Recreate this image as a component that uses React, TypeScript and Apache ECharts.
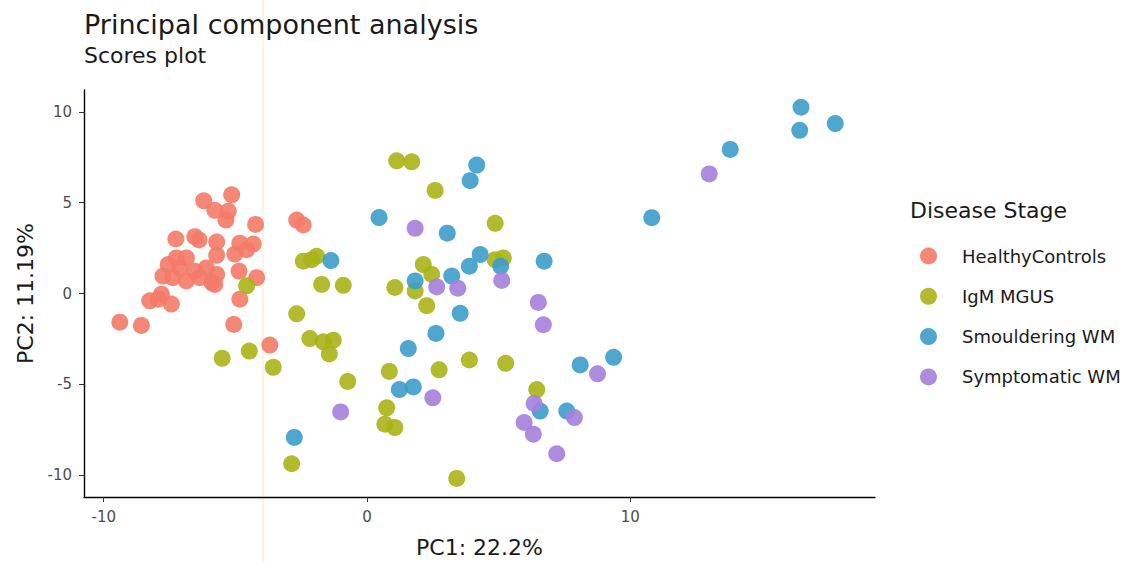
import React, { useEffect, useRef } from "react";
import * as echarts from "echarts";

const seriesNames = ["HealthyControls", "IgM MGUS", "Smouldering WM", "Symptomatic WM"];
const seriesColors = ["#F47A68", "#A9B416", "#3C9DCB", "#A47FDC"];
const xTicks = [-10, 0, 10];
const yTicks = [-10, -5, 0, 5, 10];

const healthyControls: number[][] = [
  [-5.14, 5.43], [-6.2, 5.1], [-5.78, 4.58], [-5.27, 4.53], [-5.36, 4.04], [-4.23, 3.8],
  [-7.26, 3.0], [-6.54, 3.13], [-6.38, 2.95], [-5.71, 2.83], [-4.83, 2.77], [-4.32, 2.72],
  [-4.57, 2.41], [-5.02, 2.17], [-5.71, 2.1], [-7.24, 1.96], [-6.86, 1.96], [-7.55, 1.59],
  [-7.11, 1.41], [-6.54, 1.23], [-6.1, 1.41], [-5.71, 1.05], [-7.75, 0.96], [-7.37, 0.87],
  [-6.86, 0.69], [-6.35, 0.87], [-5.9, 0.6], [-5.78, 0.5], [-4.86, 1.23], [-4.19, 0.87],
  [-7.81, -0.04], [-8.25, -0.4], [-7.43, -0.58], [-7.93, -0.31], [-4.83, -0.31],
  [-9.39, -1.58], [-8.57, -1.76], [-5.06, -1.7], [-3.69, -2.84], [-2.67, 4.04], [-2.42, 3.77],
];

const igmMgus: number[][] = [
  [-4.57, 0.42], [-2.42, 1.78], [-2.1, 1.86], [-1.91, 2.05], [-2.67, -1.12], [-2.17, -2.48],
  [-1.66, -2.66], [-1.28, -2.57], [-1.43, -3.33], [-5.5, -3.57], [-4.47, -3.17], [-3.56, -4.06],
  [-0.73, -4.84], [0.85, -4.29], [0.75, -6.29], [0.68, -7.19], [1.06, -7.38], [-2.86, -9.37],
  [2.74, -4.2], [3.89, -3.66], [5.27, -3.84], [6.45, -5.29], [3.41, -10.18],
  [1.13, 7.3], [1.7, 7.25], [2.59, 5.67], [4.87, 3.86], [-1.72, 0.5], [-0.9, 0.45],
  [1.06, 0.33], [2.14, 1.59], [2.46, 1.05], [1.83, 0.14], [2.27, -0.67], [4.87, 1.86], [5.18, 1.96],
];

const smoulderingWm: number[][] = [
  [4.17, 7.07], [3.92, 6.21], [0.46, 4.18], [3.05, 3.32], [-1.37, 1.81], [4.3, 2.14],
  [3.89, 1.5], [5.08, 1.5], [6.73, 1.78], [1.83, 0.69], [3.22, 0.96], [3.54, -1.09],
  [2.62, -2.2], [1.57, -3.03], [1.23, -5.29], [1.76, -5.14], [8.1, -3.93], [9.37, -3.51],
  [6.58, -6.47], [7.59, -6.47], [-2.76, -7.92], [16.49, 10.25], [16.44, 8.98], [17.79, 9.35],
  [13.8, 7.93], [10.82, 4.17],
];

const symptomaticWm: number[][] = [
  [1.83, 3.59], [2.65, 0.36], [3.45, 0.29], [5.12, 0.72], [6.51, -0.49], [6.7, -1.72],
  [-1.0, -6.52], [8.76, -4.42], [2.5, -5.74], [6.35, -6.05], [5.97, -7.1], [6.32, -7.74],
  [7.21, -8.82], [7.88, -6.83], [13.0, 6.58],
];

const groups = [healthyControls, igmMgus, smoulderingWm, symptomaticWm];

const FONT = "'DejaVu Sans', 'Liberation Sans', Arial, sans-serif";

export default function App() {
  const ref = useRef<HTMLDivElement>(null);
  useEffect(() => {
    document.body.style.margin = "0";
    if (!ref.current) return;
    const chart = echarts.init(ref.current, undefined, { renderer: "svg" });
    chart.setOption({
      animation: false,
      backgroundColor: "#ffffff",
      textStyle: { fontFamily: FONT },
      title: [
        {
          text: "Principal component analysis",
          left: 79,
          top: 6,
          textStyle: { fontFamily: FONT, fontSize: 27, fontWeight: "normal", color: "#1a1a1a" },
        },
        {
          text: "Scores plot",
          left: 79,
          top: 39,
          textStyle: { fontFamily: FONT, fontSize: 22, fontWeight: "normal", color: "#1a1a1a" },
        },
      ],
      grid: { left: 84, top: 90, width: 791, height: 412, containLabel: false },
      xAxis: {
        type: "value",
        min: -10.75,
        max: 19.3,
        splitLine: { show: false },
        axisLine: { onZero: false, lineStyle: { color: "#000", width: 1.4 } },
        axisTick: { customValues: xTicks, length: 5, lineStyle: { color: "#333" } },
        axisLabel: { customValues: xTicks, fontSize: 15, color: "#4d4d4d", fontFamily: FONT, margin: 12 },
        name: "PC1: 22.2%",
        nameLocation: "middle",
        nameGap: 39,
        nameTextStyle: { fontSize: 22, color: "#1a1a1a", fontFamily: FONT },
      },
      yAxis: {
        type: "value",
        min: -11.2,
        max: 11.2,
        splitLine: { show: false },
        axisLine: { onZero: false, lineStyle: { color: "#000", width: 1.4 } },
        axisTick: { customValues: yTicks, length: 5, lineStyle: { color: "#333" } },
        axisLabel: { customValues: yTicks, fontSize: 15, color: "#4d4d4d", fontFamily: FONT, margin: 12 },
        name: "PC2: 11.19%",
        nameLocation: "middle",
        nameGap: 48,
        nameTextStyle: { fontSize: 22, color: "#1a1a1a", fontFamily: FONT },
      },
      legend: {
        orient: "vertical",
        left: 915,
        top: 242,
        itemWidth: 17,
        itemHeight: 17,
        itemGap: 22.3,
        icon: "circle",
        data: seriesNames,
        textStyle: { fontSize: 18, color: "#1a1a1a", fontFamily: FONT, padding: [0, 0, 0, 20] },
      },
      graphic: [
        {
          type: "line",
          z: -10,
          silent: true,
          shape: { x1: 263, y1: 0, x2: 263, y2: 563 },
          style: { stroke: "rgba(245, 225, 160, 0.45)", lineWidth: 1.5 },
        },
        {
          type: "text",
          left: 910,
          top: 199,
          style: { text: "Disease Stage", fontSize: 22, fill: "#1a1a1a", fontFamily: FONT },
        },
      ],
      series: groups.map((g, i) => ({
        name: seriesNames[i],
        type: "scatter",
        data: g,
        symbolSize: 17,
        itemStyle: { color: seriesColors[i], opacity: 0.9 },
        emphasis: { disabled: true },
      })),
    });
    return () => chart.dispose();
  }, []);
  return <div ref={ref} style={{ width: 1125, height: 563 }} />;
}
